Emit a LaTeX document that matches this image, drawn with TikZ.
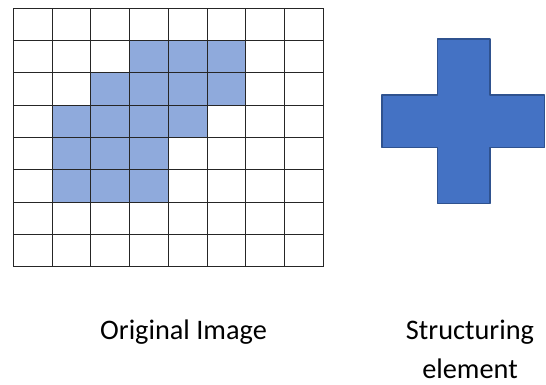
\documentclass[tikz,border=0pt]{standalone}
\usepackage{fontspec}
\setmainfont{Carlito}
\definecolor{cellblue}{HTML}{8FAADC}
\definecolor{crossfill}{HTML}{4472C4}
\definecolor{crossline}{HTML}{2F528F}
\definecolor{gridline}{HTML}{262626}
\begin{document}
\begin{tikzpicture}[x=1pt,y=-1pt,
  gridstyle/.style={draw=gridline,line width=1pt},
  cellstyle/.style={fill=cellblue},
  crossstyle/.style={fill=crossfill,draw=crossline,line width=1.6pt,line join=round},
  caption/.style={font=\fontsize{28.3}{39}\selectfont,align=center,anchor=base,inner sep=0pt}]
  \useasboundingbox (0,0) rectangle (546,385);
  % grid geometry: 8 x 8 cells
  \def\gx{13.3}\def\gy{8.3}\def\cw{38.75}\def\ch{32.3}
  % filled cells (row, column), counted from the top left
  \foreach \r/\c in {1/3,1/4,1/5, 2/2,2/3,2/4,2/5, 3/1,3/2,3/3,3/4, 4/1,4/2,4/3, 5/1,5/2,5/3}{
    \path[cellstyle] ({\gx+\c*\cw},{\gy+\r*\ch}) rectangle ++(\cw,\ch);
  }
  % grid lines
  \foreach \i in {0,...,8}{
    \draw[gridstyle] ({\gx+\i*\cw},\gy) -- ({\gx+\i*\cw},{\gy+8*\ch});
    \draw[gridstyle] (\gx,{\gy+\i*\ch}) -- ({\gx+8*\cw},{\gy+\i*\ch});
  }
  % structuring element: a plus sign
  \draw[crossstyle] (437.3,39) -- (490,39) -- (490,95.3) -- (544.5,95.3) -- (544.5,147.7)
    -- (490,147.7) -- (490,203.3) -- (437.3,203.3) -- (437.3,147.7) -- (381.7,147.7)
    -- (381.7,95.3) -- (437.3,95.3) -- cycle;
  % captions (a two-line node sits on the baseline of its last line)
  \node[caption] (orig) at (183.5,339) {Original Image};
  \node[caption] (se) at (470,378) {Structuring\\element};
\end{tikzpicture}
\end{document}
